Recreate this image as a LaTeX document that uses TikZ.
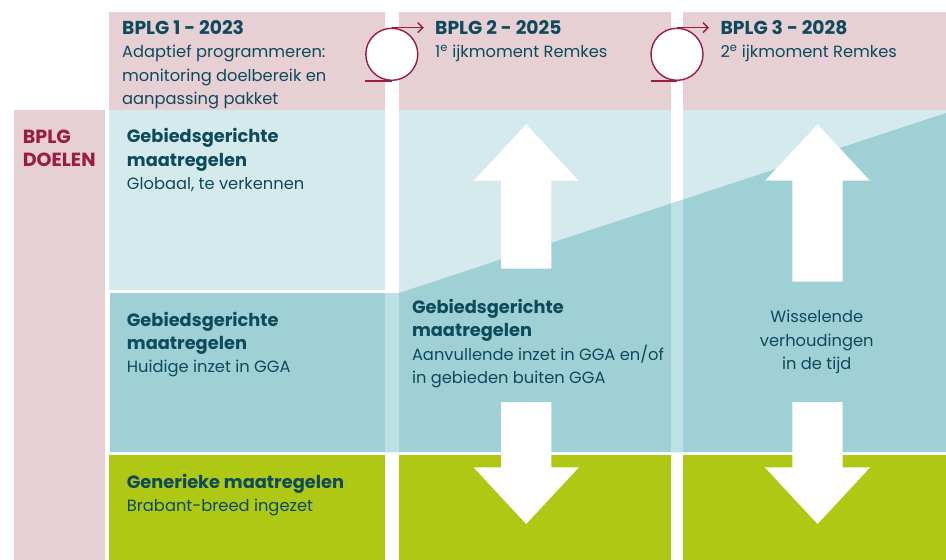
\documentclass[tikz,border=0pt]{standalone}
\usepackage{fontspec}
\setmainfont{Poppins}
\usetikzlibrary{arrows.meta}
\definecolor{bpink}{HTML}{E6D0D3}
\definecolor{bcyan}{HTML}{D4EAED}
\definecolor{bteal}{HTML}{9FD0D5}
\definecolor{bgap}{HTML}{BEE1E5}
\definecolor{bgreen}{HTML}{AEC814}
\definecolor{bink}{HTML}{0E4A5C}
\definecolor{bred}{HTML}{9A1B45}
\newcommand{\kop}[1]{{\fontsize{17.8}{23.3}\selectfont\bfseries #1}}

\begin{document}
\begin{tikzpicture}[x=1pt, y=-1pt,
    txt/.style = {anchor=base west, inner sep=0, align=left, text=bink, font=\fontsize{16.3}{23.3}\selectfont},
    ttl/.style = {anchor=base west, inner sep=0, text=bink, font=\fontsize{18.7}{22}\selectfont\bfseries},
    loop/.style = {draw=bred, fill=white, circle, line width=1.4pt, minimum size=52pt, inner sep=0},
    tail/.style = {draw=bred, line width=1.4pt}]
    \useasboundingbox (0,0) rectangle (946,560);

    % blokken
    \fill[bpink] (109,12) rectangle (385,110) (399,12) rectangle (671,110) (683,12) rectangle (946,110);
    \fill[bpink] (14,110) rectangle (105,560);
    \fill[bcyan] (109,110) rectangle (385,290) (399,110) rectangle (671,452) (683,110) rectangle (946,452);
    \fill[bteal] (110,293) -- (399,293) -- (946,113) -- (946,452) -- (110,452) -- cycle;
    \begin{scope}
        \clip (110,293) -- (399,293) -- (946,113) -- (946,452) -- (110,452) -- cycle;
        \fill[bgap] (385,100) rectangle (399,452) (671,100) rectangle (683,452);
    \end{scope}
    \fill[bgreen] (109,455) rectangle (385,560) (399,455) rectangle (671,560) (683,455) rectangle (946,560);

    % pijlen
    \foreach \cx/\bot in {526.2/268.7, 817.5/281.7} {
        \fill[white] (\cx,124.3) -- (\cx+52.4,180.7) -- (\cx+25.1,180.7) -- (\cx+25.1,\bot)
            -- (\cx-25.1,\bot) -- (\cx-25.1,180.7) -- (\cx-52.4,180.7) -- cycle;
        \fill[white] (\cx,524) -- (\cx+52.7,467.3) -- (\cx+25.2,467.3) -- (\cx+25.2,402)
            -- (\cx-25.2,402) -- (\cx-25.2,467.3) -- (\cx-52.7,467.3) -- cycle;
    }

    % koppen (base = laatste regel)
    \node[ttl] (T1) at (122,34.3) {BPLG 1 - 2023};
    \node[txt] (S1) at (122,104.3) {Adaptief programmeren:\\monitoring doelbereik en\\aanpassing pakket};
    \node[ttl] (T2) at (435,34.3) {BPLG 2 - 2025};
    \node[txt] (S2) at (435,57.3) {1\textsuperscript{e} ijkmoment Remkes};
    \node[ttl] (T3) at (720.4,34.3) {BPLG 3 - 2028};
    \node[txt] (S3) at (720.4,57.3) {2\textsuperscript{e} ijkmoment Remkes};

    \node[txt, text=bred, font=\fontsize{19}{22.7}\selectfont\bfseries] (doel) at (22.7,166) {BPLG\\DOELEN};

    \node[txt] (glob) at (126.7,189.3) {\kop{Gebiedsgerichte}\\\kop{maatregelen}\\Globaal, te verkennen};
    \node[txt] (huid) at (126.7,372.7) {\kop{Gebiedsgerichte}\\\kop{maatregelen}\\Huidige inzet in GGA};
    \node[txt] (aanv) at (411.8,383.3) {\kop{Gebiedsgerichte}\\\kop{maatregelen}\\Aanvullende inzet in GGA en/of\\in gebieden buiten GGA};
    \node[txt, anchor=base, align=center] (wiss) at (816.8,369.3) {Wisselende\\verhoudingen\\in de tijd};
    \node[txt] (gen) at (126.7,511.7) {\kop{Generieke maatregelen}\\Brabant-breed ingezet};

    % ijkmomenten
    \node[loop] (L1) at (391.8,54.3) {};
    \node[loop] (L2) at (677,54.3) {};
    \foreach \l in {L1, L2} {
        \draw[tail] (\l.south) -- ++(-26.5,0);
        \draw[tail, -{Straight Barb[length=5pt, width=10pt]}] (\l.north) -- ++(32,0);
    }
\end{tikzpicture}
\end{document}
